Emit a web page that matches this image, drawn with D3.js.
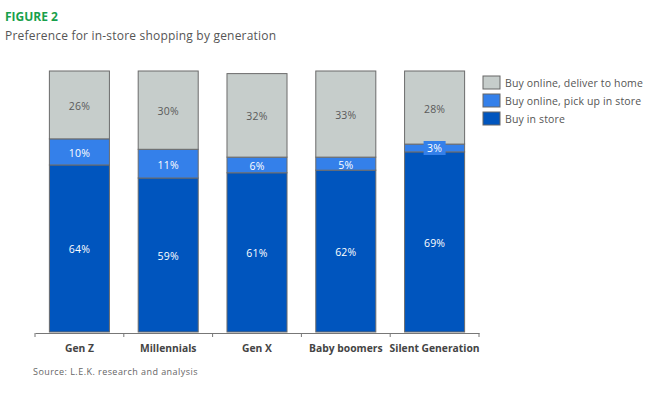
<!DOCTYPE html>
<html>
<head>
<meta charset="utf-8">
<script src="https://cdn.jsdelivr.net/npm/d3@7"></script>
<style>
  body { margin: 0; background: #fff; }
  svg { display: block; font-family: "Open Sans", "Noto Sans", sans-serif; }
</style>
</head>
<body>
<svg id="chart" width="669" height="393"></svg>
<script>
// chart data
var generations = ["Gen Z", "Millennials", "Gen X", "Baby boomers", "Silent Generation"];
var inStore = [64, 59, 61, 62, 69];
var pickUp = [10, 11, 6, 5, 3];
var deliver = [26, 30, 32, 33, 28];

var seriesNames = ["Buy online, deliver to home", "Buy online, pick up in store", "Buy in store"];
var seriesColors = ["#c6cdcb", "#3480ea", "#0055be"];
var labelColors = ["#5a5a5a", "#ffffff", "#ffffff"];

var svg = d3.select("#chart");

// header
svg.append("text")
  .attr("x", 5).attr("y", 21)
  .attr("fill", "#17a04b")
  .attr("font-weight", "bold")
  .attr("font-size", 12)
  .text("FIGURE 2");

svg.append("text")
  .attr("x", 5).attr("y", 40)
  .attr("fill", "#555")
  .attr("font-size", 12)
  .attr("letter-spacing", 0.2)
  .text("Preference for in-store shopping by generation");

// stack in-store at bottom, then pick up, then deliver
var rows = generations.map(function(g, i) {
  return {name: g, store: inStore[i], pickup: pickUp[i], deliver: deliver[i]};
});
var stack = d3.stack().keys(["store", "pickup", "deliver"])(rows);

var x = d3.scaleBand()
  .domain(generations)
  .range([35, 479])
  .paddingInner(0.324)
  .paddingOuter(0.162);

var y = d3.scaleLinear()
  .domain([0, 100])
  .range([332, 71]);

var keyIdx = {store: 2, pickup: 1, deliver: 0};

var layers = svg.append("g").selectAll("g")
  .data(stack)
  .enter()
  .append("g")
    .attr("fill", function(d) { return seriesColors[keyIdx[d.key]]; });

layers.selectAll("rect")
  .data(function(d) { return d; })
  .enter()
  .append("rect")
    .attr("x", function(d) { return x(d.data.name); })
    .attr("y", function(d) { return y(d[1]); })
    .attr("width", x.bandwidth())
    .attr("height", function(d) { return y(d[0]) - y(d[1]); })
    .attr("stroke", "#6b6b6b")
    .attr("stroke-width", 1);

// segment labels
stack.forEach(function(layer) {
  var k = keyIdx[layer.key];
  layer.forEach(function(d) {
    var val = d[1] - d[0];
    var cx = x(d.data.name) + x.bandwidth() / 2;
    var cy = (y(d[0]) + y(d[1])) / 2;
    if (val < 5) {
      // small segment: label sits on a box of the same colour
      svg.append("rect")
        .attr("x", cx - 11).attr("y", cy - 7)
        .attr("width", 22).attr("height", 14)
        .attr("fill", seriesColors[k]);
    }
    svg.append("text")
      .attr("x", cx).attr("y", val < 5 ? cy + 4 : cy + 5)
      .attr("text-anchor", "middle")
      .attr("font-size", 10.5)
      .attr("letter-spacing", 0.2)
      .attr("fill", labelColors[k])
      .text(val + "%");
  });
});

// x axis
var axis = svg.append("g")
  .attr("transform", "translate(0,333)")
  .call(d3.axisBottom(x).tickSize(0).tickPadding(12));
axis.select(".domain").attr("stroke", "#777");
axis.selectAll("text")
  .attr("font-size", 10.3)
  .attr("font-weight", "bold")
  .attr("fill", "#444")
  .attr("font-family", "\"Open Sans\", sans-serif");

// tick marks at band edges
var edges = generations.map(function(g) { return x(g) - x.step() * 0.162; });
edges.push(x.range()[1]);
axis.selectAll(".edge")
  .data(edges)
  .enter()
  .append("line")
    .attr("x1", function(d) { return d; })
    .attr("x2", function(d) { return d; })
    .attr("y1", 0).attr("y2", 4)
    .attr("stroke", "#777");

// legend
var legend = svg.append("g").attr("transform", "translate(483,76)");
seriesNames.forEach(function(n, i) {
  legend.append("rect")
    .attr("x", 0).attr("y", i * 18)
    .attr("width", 17).attr("height", 13)
    .attr("fill", seriesColors[i])
    .attr("stroke", "#666");
  legend.append("text")
    .attr("x", 22).attr("y", i * 18 + 10.5)
    .attr("font-size", 10.5)
    .attr("letter-spacing", 0.15)
    .attr("fill", "#555")
    .text(n);
});

// source
svg.append("text")
  .attr("x", 33).attr("y", 375)
  .attr("font-size", 9)
  .attr("letter-spacing", 0.45)
  .attr("fill", "#666")
  .text("Source: L.E.K. research and analysis");
</script>
</body>
</html>
